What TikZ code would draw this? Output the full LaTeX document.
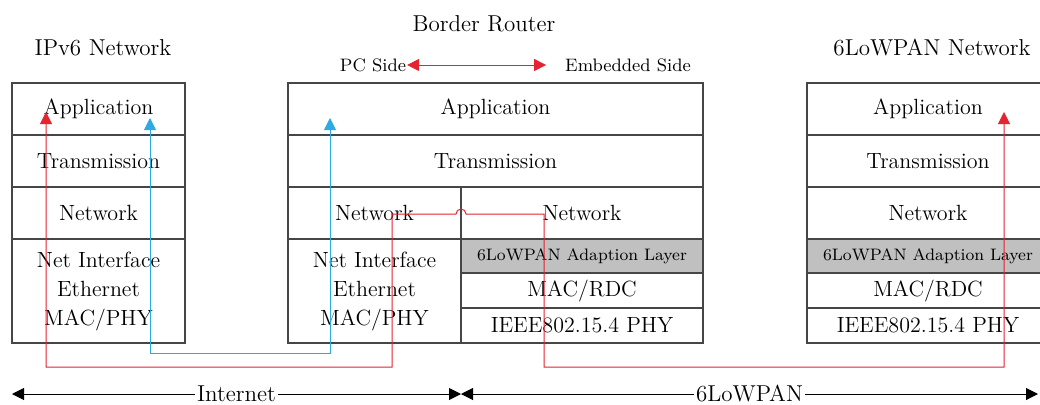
\documentclass[tikz,border=0pt]{standalone}
\usepackage{tikz}
\usetikzlibrary{arrows.meta,calc}

\definecolor{boxline}{RGB}{70,70,70}
\definecolor{layergray}{RGB}{192,192,192}
\definecolor{pathred}{RGB}{228,36,48}
\definecolor{pathblue}{RGB}{45,170,225}

\begin{document}
\begin{tikzpicture}[x=0.5pt, y=0.5pt, >={Triangle[length=6pt,width=6pt]},
    cellbox/.style={draw=boxline, line width=0.7pt, inner sep=0pt, align=center,
      font=\fontsize{11}{14.5}\selectfont},
    narrowcell/.style={cellbox, minimum width=86.5pt},
    widecell/.style={cellbox, minimum width=121pt},
    fullcell/.style={cellbox, minimum width=207.5pt},
    rowcell/.style={minimum height=26pt},
    thincell/.style={minimum height=17.5pt},
    graycell/.style={fill=layergray, font=\fontsize{8.3}{10}\selectfont, minimum height=17pt},
    title/.style={font=\fontsize{11.5}{13}\selectfont},
    sidelabel/.style={font=\fontsize{9}{11}\selectfont}]

  \useasboundingbox (0,0) rectangle (1040,404);

  % Titles
  \node[title] (ipv6title) at (103,356) {IPv6 Network};
  \node[title] (brtitle) at (484,380) {Border Router};
  \node[title] (lowtitle) at (932,356) {6LoWPAN Network};
  \node[sidelabel] (pcside) at (373,339) {PC Side};
  \node[sidelabel] (embside) at (628,339) {Embedded Side};
  \draw[pathred, line width=0.5pt, <->] ($(pcside.east)+(-6,0)$) -- ($(embside.west)+(-12,0)$);

  % Left stack
  \node[narrowcell, rowcell] (lapp) at (98.5,295) {Application};
  \node[narrowcell, rowcell] (ltrans) at (98.5,243) {Transmission};
  \node[narrowcell, rowcell] (lnet) at (98.5,191) {Network};
  \node[narrowcell, minimum height=52pt] (lnif) at (98.5,113) {Net Interface\\Ethernet\\MAC/PHY};

  % Border router
  \node[fullcell, rowcell] (mapp) at (495.5,295) {Application};
  \node[fullcell, rowcell] (mtrans) at (495.5,243) {Transmission};
  \node[narrowcell, rowcell] (mnetpc) at (374.5,191) {Network};
  \node[narrowcell, minimum height=52pt] (mnif) at (374.5,113) {Net Interface\\Ethernet\\MAC/PHY};
  \node[widecell, rowcell] (mnetemb) at (582,191) {Network};
  \node[widecell, graycell] (madapt) at (582,148) {6LoWPAN Adaption Layer};
  \node[widecell, thincell] (mmac) at (582,113.5) {MAC/RDC};
  \node[widecell, thincell] (mphy) at (582,78.5) {IEEE802.15.4 PHY};

  % Right stack
  \node[widecell, rowcell] (rapp) at (928,295) {Application};
  \node[widecell, rowcell] (rtrans) at (928,243) {Transmission};
  \node[widecell, rowcell] (rnet) at (928,191) {Network};
  \node[widecell, graycell] (radapt) at (928,148) {6LoWPAN Adaption Layer};
  \node[widecell, thincell] (rmac) at (928,113.5) {MAC/RDC};
  \node[widecell, thincell] (rphy) at (928,78.5) {IEEE802.15.4 PHY};

  % Blue path (IPv6 host to PC side)
  \coordinate (bluestart) at (150,286);
  \coordinate (blueend) at (330,286);
  \draw[pathblue, line width=0.5pt, <->]
    (bluestart) -- (150,51) -- (330,51) -- (blueend);

  % Red path (IPv6 host to 6LoWPAN node)
  \coordinate (redstart) at (46,292);
  \coordinate (redend) at (1004,292);
  \draw[pathred, line width=0.5pt, <->]
    (redstart) -- (46,37) -- (392,37) -- (392,190) -- (456,190)
    arc (180:0:5) -- (544,190) -- (544,37) -- (1004,37) -- (redend);

  % Network ranges
  \coordinate (inetleft) at (12,10);
  \coordinate (split) at (461,10);
  \coordinate (lowright) at (1038,10);
  \draw[line width=0.5pt, <->] (inetleft) --
    node[fill=white, inner sep=1pt, title] (inetlabel) {Internet} (split);
  \draw[line width=0.5pt, <->] (split) --
    node[fill=white, inner sep=1pt, title] (lowlabel) {6LoWPAN} (lowright);

\end{tikzpicture}
\end{document}
